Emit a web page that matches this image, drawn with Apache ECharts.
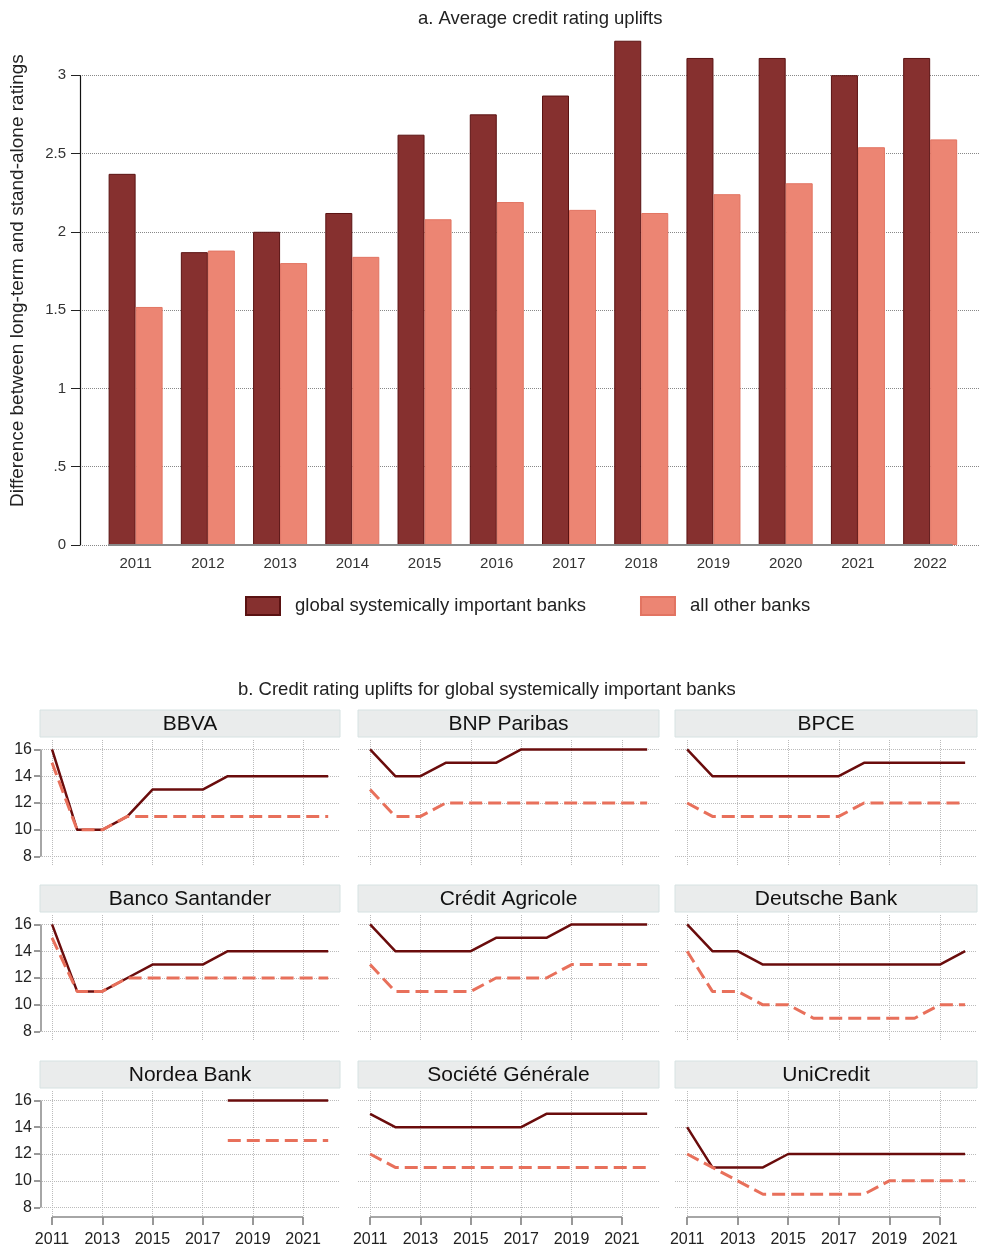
<!DOCTYPE html>
<html>
<head>
<meta charset="utf-8">
<title>Credit rating uplifts</title>
<script src="https://cdn.jsdelivr.net/npm/echarts@6/dist/echarts.min.js"></script>
<style>
  html, body { margin: 0; padding: 0; background: #fff; }
  #main { width: 983px; height: 1251px; }
</style>
</head>
<body>
<div id="main"></div>
<script>
// panel a: average uplift (notches)
var years = [2011, 2012, 2013, 2014, 2015, 2016, 2017, 2018, 2019, 2020, 2021, 2022];
var gsibAvg = [2.37, 1.87, 2.00, 2.12, 2.62, 2.75, 2.87, 3.22, 3.11, 3.11, 3.00, 3.11];
var otherAvg = [1.52, 1.88, 1.80, 1.84, 2.08, 2.19, 2.14, 2.12, 2.24, 2.31, 2.54, 2.59];
var yTicksA = [0, 0.5, 1, 1.5, 2, 2.5, 3];

// panel b: long-term (solid) and stand-alone (dashed) ratings per bank
var bbvaLong = [16, 10, 10, 11, 13, 13, 13, 14, 14, 14, 14, 14];
var bbvaStand = [15, 10, 10, 11, 11, 11, 11, 11, 11, 11, 11, 11];
var bnpLong = [16, 14, 14, 15, 15, 15, 16, 16, 16, 16, 16, 16];
var bnpStand = [13, 11, 11, 12, 12, 12, 12, 12, 12, 12, 12, 12];
var bpceLong = [16, 14, 14, 14, 14, 14, 14, 15, 15, 15, 15, 15];
var bpceStand = [12, 11, 11, 11, 11, 11, 11, 12, 12, 12, 12, 12];
var santanderLong = [16, 11, 11, 12, 13, 13, 13, 14, 14, 14, 14, 14];
var santanderStand = [15, 11, 11, 12, 12, 12, 12, 12, 12, 12, 12, 12];
var agricoleLong = [16, 14, 14, 14, 14, 15, 15, 15, 16, 16, 16, 16];
var agricoleStand = [13, 11, 11, 11, 11, 12, 12, 12, 13, 13, 13, 13];
var deutscheLong = [16, 14, 14, 13, 13, 13, 13, 13, 13, 13, 13, 14];
var deutscheStand = [14, 11, 11, 10, 10, 9, 9, 9, 9, 9, 10, 10];
var nordeaLong = [null, null, null, null, null, null, null, 16, 16, 16, 16, 16];
var nordeaStand = [null, null, null, null, null, null, null, 13, 13, 13, 13, 13];
var socgenLong = [15, 14, 14, 14, 14, 14, 14, 15, 15, 15, 15, 15];
var socgenStand = [12, 11, 11, 11, 11, 11, 11, 11, 11, 11, 11, 11];
var unicreditLong = [14, 11, 11, 11, 12, 12, 12, 12, 12, 12, 12, 12];
var unicreditStand = [12, 11, 10, 9, 9, 9, 9, 9, 10, 10, 10, 10];

var banks = ['BBVA', 'BNP Paribas', 'BPCE', 'Banco Santander', 'Crédit Agricole', 'Deutsche Bank',
  'Nordea Bank', 'Société Générale', 'UniCredit'];
var longRatings = [bbvaLong, bnpLong, bpceLong, santanderLong, agricoleLong, deutscheLong,
  nordeaLong, socgenLong, unicreditLong];
var standRatings = [bbvaStand, bnpStand, bpceStand, santanderStand, agricoleStand, deutscheStand,
  nordeaStand, socgenStand, unicreditStand];
var xTicksB = [2011, 2013, 2015, 2017, 2019, 2021];
var yTicksB = [8, 10, 12, 14, 16];

var FONT = '"Liberation Sans", Arial, sans-serif';
var myChart = echarts.init(document.getElementById('main'));

function pairs(vals) {
  return years.map(function (y, i) { return [y, vals[i]]; });
}
function yearLabel(v) { return String(v); }

// layout of the small multiples
var colLeft = [40, 358, 675];
var colWidth = [300, 301, 302];
var rowTop = [740, 915, 1091];
var headTop = [710, 885, 1061];
var gridH = 126;

var grids = [{ left: 78, top: 28.2, width: 902, height: 516.8 }];
var xAxes = [{
  gridIndex: 0, type: 'value', min: 2010.23, max: 2022.69,
  axisLine: { show: false }, axisTick: { show: false }, splitLine: { show: false },
  axisLabel: { customValues: years, formatter: yearLabel, color: '#333', fontSize: 15, margin: 11, fontFamily: FONT }
}];
var yAxes = [{
  gridIndex: 0, type: 'value', min: 0, max: 3.3,
  axisLine: { show: false },
  axisTick: { show: true, length: 9, customValues: yTicksA, lineStyle: { color: '#222' } },
  axisLabel: {
    customValues: yTicksA, margin: 14, fontSize: 15, color: '#333', fontFamily: FONT,
    formatter: function (v) { return v === 0 ? '0' : String(v).replace(/^0\./, '.'); }
  },
  splitLine: { show: true, lineStyle: { type: 'dotted', color: '#888', width: 1 } },
  name: 'Difference between long-term and stand-alone ratings',
  nameLocation: 'middle', nameGap: 53, nameRotate: 90,
  nameTextStyle: { fontSize: 19, color: '#222', fontFamily: FONT, padding: [0, 0, 0, 12] }
}];

var series = [
  {
    type: 'bar', name: 'global systemically important banks', xAxisIndex: 0, yAxisIndex: 0,
    data: pairs(gsibAvg), barWidth: 27, barGap: '0%',
    itemStyle: { color: '#86302F', borderColor: '#5A1212', borderWidth: 1 }
  },
  {
    type: 'bar', name: 'all other banks', xAxisIndex: 0, yAxisIndex: 0,
    data: pairs(otherAvg), barWidth: 27, barGap: '0%',
    itemStyle: { color: '#EC8573', borderColor: '#E27462', borderWidth: 1 }
  },
  {
    // y axis line (0 to 3) and bar baseline
    type: 'line', name: 'axes', xAxisIndex: 0, yAxisIndex: 0, data: [], clip: false,
    markLine: {
      silent: true, symbol: 'none', label: { show: false }, animation: false,
      data: [
        [{ coord: [2010.235, 0], lineStyle: { color: '#111', width: 1.2, type: 'solid' } }, { coord: [2010.235, 3] }],
        [{ coord: [2010.62, 0], lineStyle: { color: '#8a8a8a', width: 2, type: 'solid' } }, { coord: [2022.31, 0] }]
      ]
    }
  }
];

var graphics = [];

banks.forEach(function (bank, k) {
  var r = Math.floor(k / 3), c = k % 3, idx = k + 1;
  grids.push({ left: colLeft[c], top: rowTop[r], width: colWidth[c], height: gridH });
  xAxes.push({
    gridIndex: idx, type: 'value', min: 2010.52, max: 2022.47,
    axisLine: { show: false },
    axisTick: { show: r === 2, length: 8, customValues: xTicksB, lineStyle: { color: '#777', width: 1.5 } },
    axisLabel: { show: r === 2, customValues: xTicksB, formatter: yearLabel, fontSize: 16, margin: 15, color: '#222', fontFamily: FONT },
    splitLine: { show: true, lineStyle: { type: 'dotted', color: '#bbb', width: 1 } }
  });
  yAxes.push({
    gridIndex: idx, type: 'value', min: 7.3, max: 16.7,
    axisLine: { show: false },
    axisTick: { show: c === 0, length: 6, customValues: yTicksB, lineStyle: { color: '#777', width: 1.5 } },
    axisLabel: { show: c === 0, customValues: yTicksB, fontSize: 16, margin: 8, color: '#222', fontFamily: FONT },
    splitLine: { show: true, lineStyle: { type: 'dotted', color: '#bbb', width: 1 } }
  });

  var axisLines = [];
  if (r === 2) {
    axisLines.push([{ coord: [2011, 7.3], lineStyle: { color: '#888', width: 1.5, type: 'solid' } }, { coord: [2021, 7.3] }]);
  }
  if (c === 0) {
    axisLines.push([{ coord: [2010.53, 8], lineStyle: { color: '#888', width: 1.5, type: 'solid' } }, { coord: [2010.53, 16] }]);
  }

  series.push({
    type: 'line', name: bank + ' long-term', xAxisIndex: idx, yAxisIndex: idx,
    data: pairs(longRatings[k]), showSymbol: false, symbol: 'none', connectNulls: false, clip: false,
    lineStyle: { color: '#6A0C0C', width: 2.5 },
    markLine: axisLines.length ? {
      silent: true, symbol: 'none', label: { show: false }, animation: false, data: axisLines
    } : undefined
  });
  series.push({
    type: 'line', name: bank + ' stand-alone', xAxisIndex: idx, yAxisIndex: idx,
    data: pairs(standRatings[k]), showSymbol: false, symbol: 'none', connectNulls: false, clip: false,
    lineStyle: { color: '#E8705B', width: 3, type: [13, 6] }
  });

  graphics.push({
    type: 'rect', silent: true,
    shape: { x: colLeft[c], y: headTop[r], width: colWidth[c], height: 27 },
    style: { fill: '#EAECEC', stroke: '#D6E2E2', lineWidth: 1 }
  });
  graphics.push({
    type: 'text', silent: true,
    x: colLeft[c] + colWidth[c] / 2, y: headTop[r] + 14,
    style: { text: bank, fill: '#111', font: '21px ' + FONT, align: 'center', verticalAlign: 'middle' }
  });
});

var option = {
  backgroundColor: '#fff',
  animation: false,
  textStyle: { fontFamily: FONT },
  title: [
    { text: 'a. Average credit rating uplifts', left: 413, top: 4, textStyle: { fontSize: 18.5, fontWeight: 'normal', color: '#222', fontFamily: FONT } },
    { text: 'b. Credit rating uplifts for global systemically important banks', left: 233, top: 675, textStyle: { fontSize: 18.5, fontWeight: 'normal', color: '#222', fontFamily: FONT } }
  ],
  legend: {
    data: ['global systemically important banks', 'all other banks'],
    left: 240, top: 591, itemWidth: 34, itemHeight: 18, itemGap: 54, icon: 'rect',
    textStyle: { fontSize: 18.5, color: '#222', fontFamily: FONT, padding: [0, 0, 0, 10] }
  },
  grid: grids,
  xAxis: xAxes,
  yAxis: yAxes,
  series: series,
  graphic: graphics
};

myChart.setOption(option);
window.addEventListener('resize', function () { myChart.resize(); });
</script>
</body>
</html>
